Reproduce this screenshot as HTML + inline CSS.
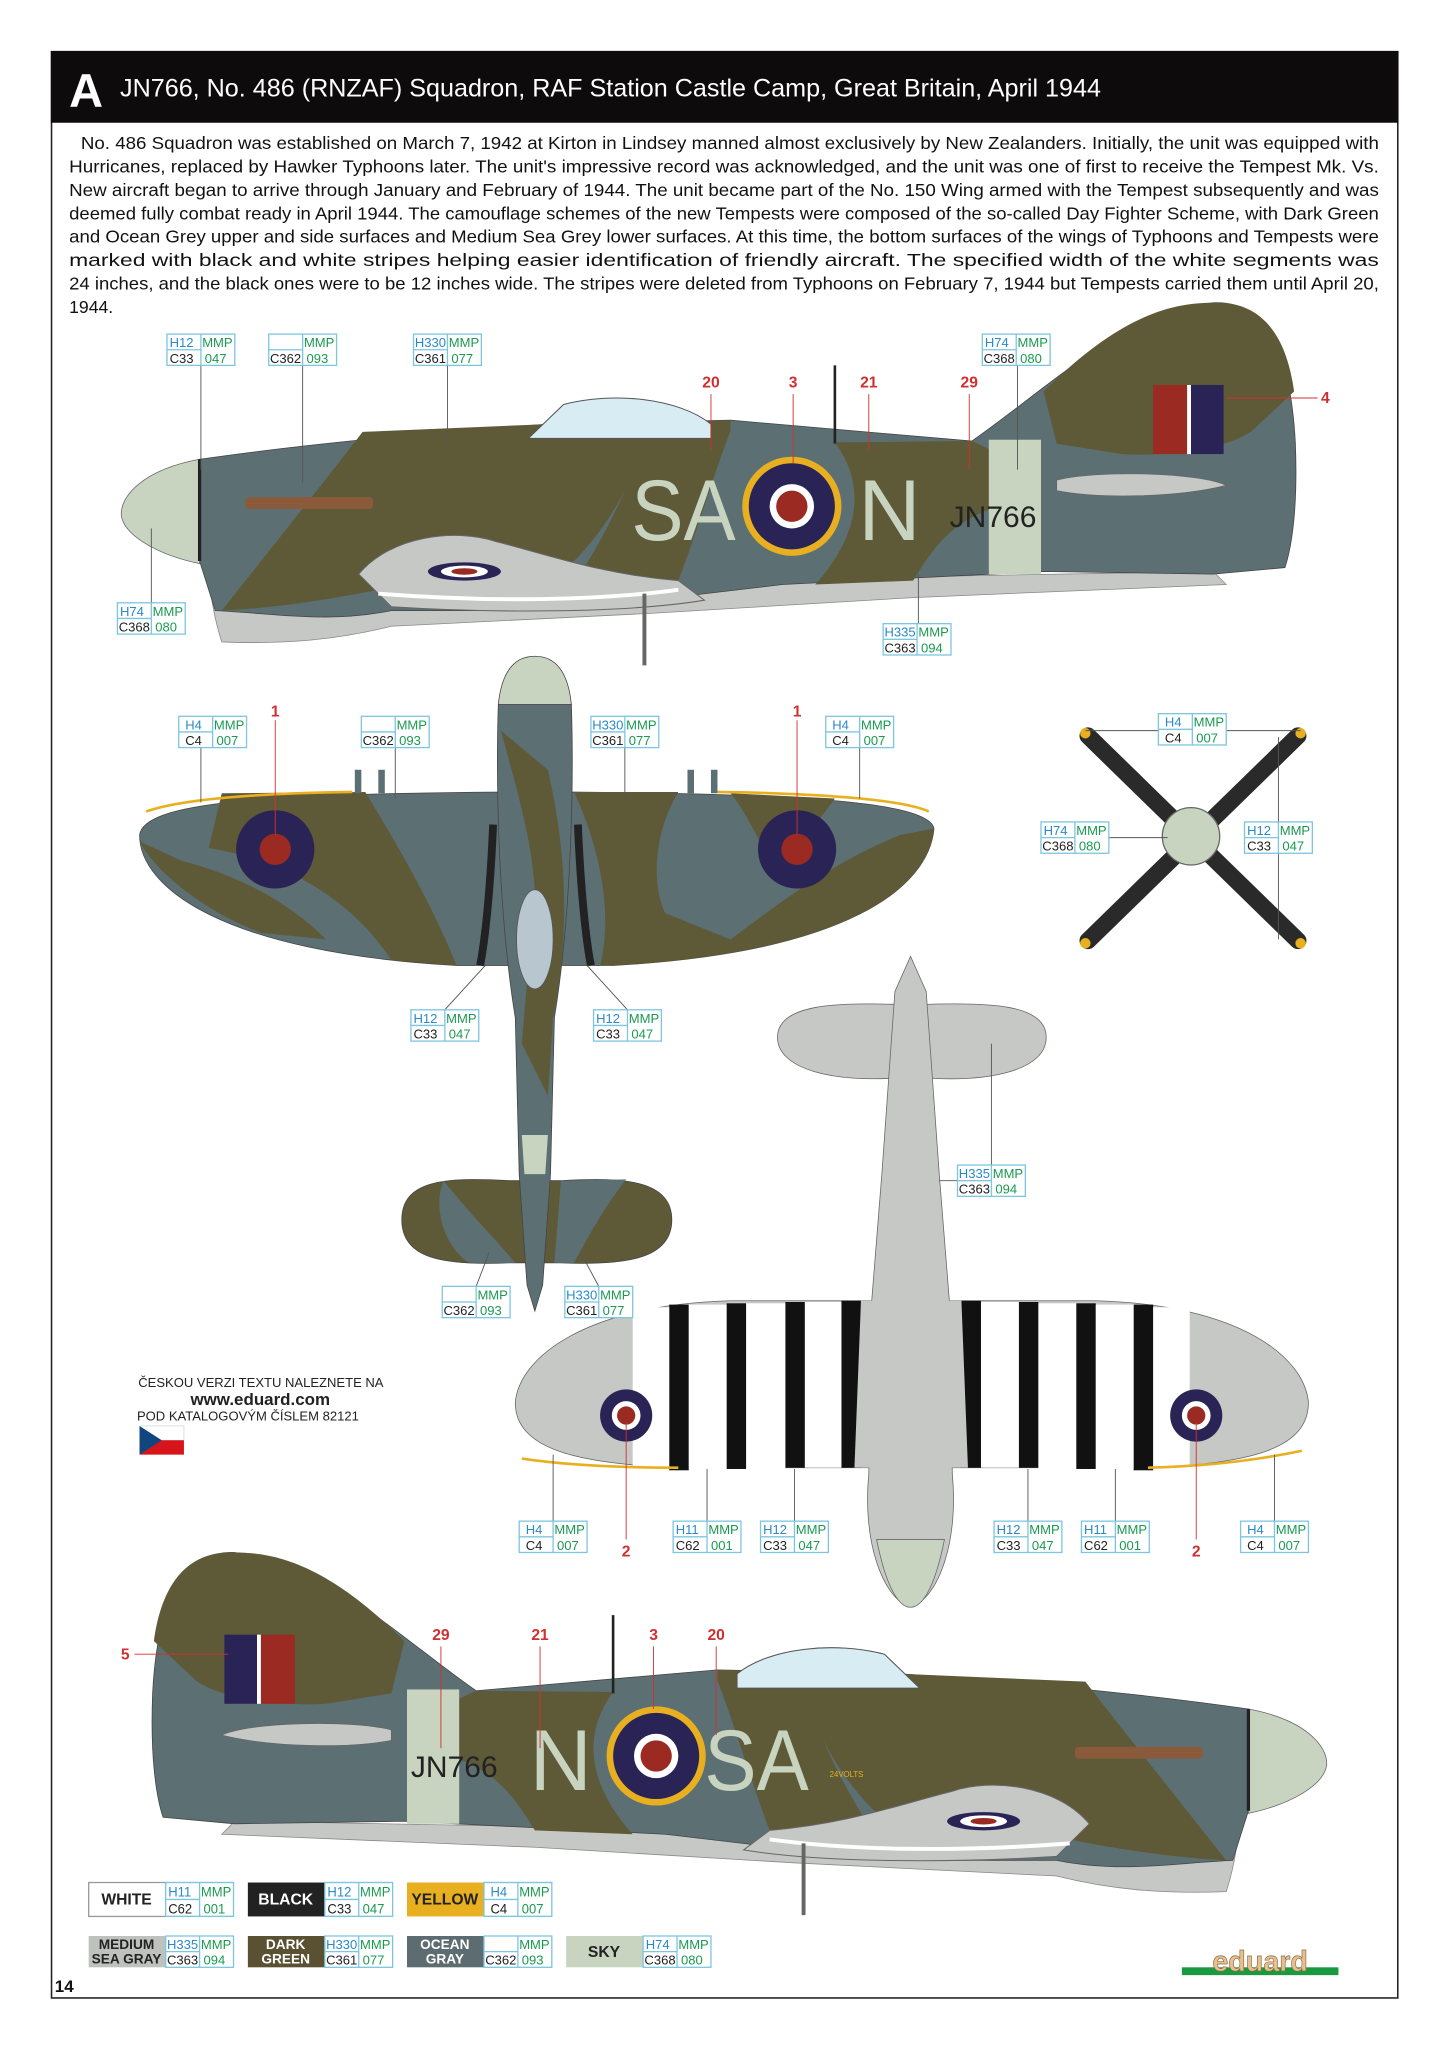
<!DOCTYPE html>
<html><head><meta charset="utf-8"><style>
html,body{margin:0;padding:0;background:#fff}
svg{display:block}
.lb text{font-family:"Liberation Sans Narrow","Liberation Sans",sans-serif;font-size:10px}
</style></head><body>
<svg width="1448" height="2047" viewBox="0 0 1110 1569" xmlns="http://www.w3.org/2000/svg" xmlns:xlink="http://www.w3.org/1999/xlink">
<defs>
<g id="box">
<rect x="0" y="0" width="52" height="24" fill="#fff" stroke="#7cc6e0" stroke-width="1"/>
<line x1="26" y1="0" x2="26" y2="24" stroke="#7cc6e0"/>
<line x1="0" y1="12" x2="26" y2="12" stroke="#7cc6e0"/>
</g>
<g id="side">
<path d="M160,425 L300,455 L500,450 L700,442 L930,438 L940,448 L700,458 L500,470 L300,480 C260,490 220,494 170,492 C163,470 160,450 160,425Z" fill="#c6c8c6" stroke="#888" stroke-width="0.6"/>
<path d="M153,352 C250,338 350,330 420,325 L560,322 L745,338 C800,300 860,240 930,232 C975,230 990,280 993,340 C995,390 990,420 985,435 L930,440 L800,438 L600,448 L430,468 L300,468 C250,478 210,470 165,468 L153,430 Z" fill="#5c7074" stroke="#444" stroke-width="0.6"/>
<!-- dark green camo -->
<path d="M278,331 L420,325 L498,323 C490,360 470,400 440,430 L400,440 C360,445 320,448 290,452 C250,460 210,466 170,468 C200,430 240,380 278,331Z" fill="#5e5a38"/>
<path d="M498,323 L560,322 L560,330 C545,370 530,420 520,445 L430,462 C460,420 485,370 498,323Z" fill="#5e5a38"/>
<path d="M640,339 L745,338 L760,345 L760,390 C730,400 715,420 700,445 L625,448 C650,420 670,380 640,339Z" fill="#5e5a38"/>
<path d="M800,300 C860,240 900,232 930,232 C975,230 988,270 992,300 L960,330 C940,345 890,350 860,348 L810,340 Z" fill="#5e5a38"/>
<rect x="758" y="337" width="40" height="103" fill="#c8d4c0"/>
<path d="M153,352 C110,360 92,380 93,395 C95,410 120,425 153,432 Z" fill="#c8d4c0" stroke="#666" stroke-width="0.6"/>
<line x1="153" y1="352" x2="153" y2="430" stroke="#222" stroke-width="2.5"/>
<rect x="188" y="381" width="98" height="9" rx="3" fill="#8a5a3a"/>
<path d="M405,336 L432,310 C470,300 520,305 545,325 L545,336Z" fill="#d8ecf4" stroke="#555" stroke-width="0.8"/>
<line x1="640" y1="280" x2="640" y2="340" stroke="#222" stroke-width="2"/>
<path d="M275,440 C300,410 350,405 380,415 C420,425 460,440 520,445 L540,460 C480,470 380,470 300,465 Z" fill="#c6c8c6" stroke="#666" stroke-width="0.8"/>
<path d="M290,455 C380,462 460,460 520,452" stroke="#fff" stroke-width="3" fill="none"/>
<ellipse cx="356" cy="438" rx="28" ry="7" fill="#2a2456"/><ellipse cx="356" cy="438" rx="18" ry="4.5" fill="#fff"/><ellipse cx="356" cy="438" rx="10" ry="2.5" fill="#9a2a22"/>
<line x1="494" y1="455" x2="494" y2="510" stroke="#666" stroke-width="3"/>
<path d="M810,368 C840,360 920,362 940,372 C900,382 840,382 810,376Z" fill="#c6c8c6" stroke="#666" stroke-width="0.6"/>
<circle cx="607" cy="388" r="38" fill="#e8b020"/><circle cx="607" cy="388" r="33" fill="#2a2456"/><circle cx="607" cy="388" r="17" fill="#fff"/><circle cx="607" cy="388" r="12" fill="#9a2a22"/>
<rect x="884" y="295" width="26" height="53" fill="#9a2a22"/><rect x="910" y="295" width="3" height="53" fill="#fff"/><rect x="913" y="295" width="25" height="53" fill="#2a2456"/>
</g>
</defs>

<rect x="39.5" y="39.5" width="1032" height="1492" fill="#fff" stroke="#222" stroke-width="1.2"/>
<rect x="39" y="39" width="1033" height="55" fill="#0d0b0b"/>
<text x="53" y="82" fill="#fff" font-family="Liberation Sans,sans-serif" font-weight="bold" font-size="36">A</text>
<text x="92" y="74" fill="#fff" font-family="Liberation Sans Narrow,Liberation Sans,sans-serif" font-size="19" textLength="752" lengthAdjust="spacingAndGlyphs">JN766, No. 486 (RNZAF) Squadron, RAF Station Castle Camp, Great Britain, April 1944</text>

<g font-family="Liberation Sans Narrow,Liberation Sans,sans-serif" font-size="13.5" fill="#111">
<text x="62" y="114" textLength="995" lengthAdjust="spacingAndGlyphs">No. 486 Squadron was established on March 7, 1942 at Kirton in Lindsey manned almost exclusively by New Zealanders. Initially, the unit was equipped with</text>
<text x="53" y="132" textLength="1004" lengthAdjust="spacingAndGlyphs">Hurricanes, replaced by Hawker Typhoons later. The unit's impressive record was acknowledged, and the unit was one of first to receive the Tempest Mk. Vs.</text>
<text x="53" y="150" textLength="1004" lengthAdjust="spacingAndGlyphs">New aircraft began to arrive through January and February of 1944. The unit became part of the No. 150 Wing armed with the Tempest subsequently and was</text>
<text x="53" y="168" textLength="1004" lengthAdjust="spacingAndGlyphs">deemed fully combat ready in April 1944. The camouflage schemes of the new Tempests were composed of the so-called Day Fighter Scheme, with Dark Green</text>
<text x="53" y="186" textLength="1004" lengthAdjust="spacingAndGlyphs">and Ocean Grey upper and side surfaces and Medium Sea Grey lower surfaces. At this time, the bottom surfaces of the wings of Typhoons and Tempests were</text>
<text x="53" y="204" textLength="1004" lengthAdjust="spacingAndGlyphs">marked with black and white stripes helping easier identification of friendly aircraft. The specified width of the white segments was</text>
<text x="53" y="222" textLength="1004" lengthAdjust="spacingAndGlyphs">24 inches, and the black ones were to be 12 inches wide. The stripes were deleted from Typhoons on February 7, 1944 but Tempests carried them until April 20,</text>
<text x="53" y="240">1944.</text>
</g>

<use xlink:href="#side"/>
<g font-family="Liberation Sans Narrow,Liberation Sans,sans-serif">
<text x="484" y="414" font-size="66" fill="#c8d4c0" textLength="80" lengthAdjust="spacingAndGlyphs">SA</text>
<text x="658" y="414" font-size="66" fill="#c8d4c0">N</text>
<text x="728" y="404" font-size="23" fill="#222">JN766</text>
</g>
<use xlink:href="#side" transform="translate(1110,958) scale(-1,1)"/>
<g font-family="Liberation Sans Narrow,Liberation Sans,sans-serif">
<text x="406" y="1372" font-size="66" fill="#c8d4c0">N</text>
<text x="540" y="1372" font-size="66" fill="#c8d4c0" textLength="80" lengthAdjust="spacingAndGlyphs">SA</text>
<text x="315" y="1362" font-size="23" fill="#222">JN766</text>
<text x="636" y="1362" font-size="6" fill="#e8b020">24VOLTS</text>
</g>

<!-- TOP VIEW -->
<g stroke="#444" stroke-width="0.6">
<path d="M107,640 C110,615 200,608 400,607 L420,607 C620,608 712,615 716,635 C712,680 650,730 470,740 L350,740 C170,730 107,680 107,640Z" fill="#5c7074"/>
<path d="M170,608 L280,607 C300,640 330,690 350,740 L300,736 C270,690 220,660 160,650 Z" fill="#5e5a38" stroke="none"/>
<path d="M107,645 C120,670 160,700 200,715 L250,720 C220,690 180,670 140,660Z" fill="#5e5a38" stroke="none"/>
<path d="M440,607 L520,607 C500,640 500,680 510,700 L560,720 C600,690 640,660 690,640 L716,635 C712,680 650,730 470,740 L460,740 C470,700 460,650 440,607Z" fill="#5e5a38" stroke="none"/>
<path d="M560,608 L640,612 C620,640 600,660 590,660 C580,640 570,620 560,608Z" fill="#5e5a38" stroke="none"/>
<path d="M308,935 C308,905 340,902 390,905 L430,905 C480,902 515,905 515,935 C515,965 480,970 430,968 L390,968 C340,970 308,965 308,935Z" fill="#5e5a38"/>
<path d="M340,905 C360,930 380,950 395,968 L360,968 C345,960 330,930 340,905Z" fill="#5c7074" stroke="none"/>
<path d="M430,905 L480,904 C460,930 450,950 440,968 L425,968Z" fill="#5c7074" stroke="none"/>
<path d="M382,540 C380,600 382,700 395,780 L398,900 L404,985 L410,1005 L416,985 L422,900 L425,780 C438,700 440,600 438,540Z" fill="#5c7074"/>
<path d="M384,560 C400,620 420,680 405,740 L400,800 L420,840 L424,780 C436,720 436,660 420,590 Z" fill="#5e5a38" stroke="none"/>
<path d="M400,870 L420,870 L418,900 L402,900Z" fill="#c8d4c0" stroke="none"/>
<path d="M382,540 C385,510 398,503 410,503 C422,503 435,510 438,540Z" fill="#c8d4c0"/>
</g>
<path d="M112,622 C140,612 200,608 270,607" stroke="#e8b020" stroke-width="2" fill="none"/>
<path d="M550,607 C620,608 690,612 712,622" stroke="#e8b020" stroke-width="2" fill="none"/>
<path d="M378,632 C376,680 372,720 368,740" stroke="#222" stroke-width="6" fill="none"/>
<path d="M443,632 C445,680 449,720 453,740" stroke="#222" stroke-width="6" fill="none"/>
<ellipse cx="410" cy="720" rx="14" ry="38" fill="#b8c6d0" stroke="#555" stroke-width="0.6"/>
<rect x="272" y="590" width="5" height="18" fill="#5c7074"/><rect x="290" y="590" width="5" height="18" fill="#5c7074"/>
<rect x="527" y="590" width="5" height="18" fill="#5c7074"/><rect x="545" y="590" width="5" height="18" fill="#5c7074"/>
<circle cx="211" cy="651" r="30" fill="#2a2456"/><circle cx="211" cy="651" r="12" fill="#9a2a22"/>
<circle cx="611" cy="651" r="30" fill="#2a2456"/><circle cx="611" cy="651" r="12" fill="#9a2a22"/>

<!-- PROPELLER -->
<g stroke="#2a2a2a" stroke-width="13" stroke-linecap="round">
<line x1="834" y1="564" x2="995" y2="721"/><line x1="995" y1="564" x2="834" y2="721"/>
</g>
<circle cx="832" cy="562" r="4" fill="#e8b020"/><circle cx="997" cy="562" r="4" fill="#e8b020"/>
<circle cx="832" cy="723" r="4" fill="#e8b020"/><circle cx="997" cy="723" r="4" fill="#e8b020"/>
<circle cx="913" cy="641" r="22" fill="#c8d4c0" stroke="#666"/>

<!-- BOTTOM VIEW -->
<g stroke="#666" stroke-width="0.6" fill="#c6c8c6">
<path d="M596,795 C596,770 640,768 690,770 L706,770 C760,768 802,770 802,795 C802,820 760,830 706,826 L690,826 C640,830 596,820 596,795Z"/>
<path d="M395,1075 C398,1040 450,1000 560,997 L840,997 C950,1000 1000,1040 1003,1075 C1003,1110 960,1122 880,1125 L520,1125 C440,1122 395,1110 395,1075Z"/>
<path d="M686,760 L698,733 L710,760 L720,900 L728,1000 L730,1130 C735,1180 720,1225 698,1232 C676,1225 661,1180 666,1130 L668,1000 L676,900Z"/>
</g>
<g fill="#111">
<rect x="513" y="1000" width="15" height="127"/><rect x="557" y="999" width="15" height="127"/>
<rect x="602" y="998" width="15" height="127"/><rect x="645" y="997" width="15" height="128"/>
<rect x="737" y="997" width="15" height="128"/><rect x="781" y="998" width="15" height="127"/>
<rect x="825" y="999" width="15" height="127"/><rect x="869" y="1000" width="15" height="127"/>
</g>
<g fill="#fff">
<rect x="485" y="1002" width="28" height="124"/><rect x="528" y="1000" width="29" height="126"/><rect x="572" y="999" width="30" height="127"/><rect x="617" y="998" width="28" height="127"/>
<rect x="752" y="998" width="29" height="127"/><rect x="796" y="999" width="29" height="127"/><rect x="840" y="1000" width="29" height="126"/><rect x="884" y="1002" width="28" height="124"/>
</g>
<path d="M660,997 L737,997 L742,1125 L655,1125Z" fill="#c6c8c6"/>
<path d="M400,1118 C440,1124 490,1125 520,1125" stroke="#e8b020" stroke-width="2" fill="none"/>
<path d="M880,1125 C920,1124 960,1120 998,1112" stroke="#e8b020" stroke-width="2" fill="none"/>
<circle cx="480" cy="1085" r="20" fill="#2a2456"/><circle cx="480" cy="1085" r="11" fill="#fff"/><circle cx="480" cy="1085" r="7" fill="#9a2a22"/>
<circle cx="917" cy="1085" r="20" fill="#2a2456"/><circle cx="917" cy="1085" r="11" fill="#fff"/><circle cx="917" cy="1085" r="7" fill="#9a2a22"/>
<path d="M672,1180 C680,1220 690,1232 698,1232 C706,1232 716,1220 724,1180Z" fill="#c8d4c0" stroke="#666" stroke-width="0.6"/>

<g stroke="#555" stroke-width="0.7">
<line x1="154" y1="280" x2="154" y2="360"/><line x1="232" y1="280" x2="232" y2="370"/><line x1="343" y1="280" x2="343" y2="340"/><line x1="780" y1="280" x2="780" y2="360"/>
<line x1="116" y1="462" x2="116" y2="405"/><line x1="704" y1="478" x2="704" y2="440"/>
<line x1="154" y1="573" x2="154" y2="615"/><line x1="303" y1="573" x2="303" y2="612"/><line x1="479" y1="573" x2="479" y2="612"/><line x1="659" y1="573" x2="659" y2="612"/>
<line x1="832" y1="560" x2="888" y2="560"/><line x1="940" y1="560" x2="997" y2="560"/>
<line x1="850" y1="642" x2="895" y2="642"/><line x1="980" y1="565" x2="980" y2="720"/>
<line x1="341" y1="774" x2="372" y2="740"/><line x1="481" y1="774" x2="450" y2="740"/>
<line x1="365" y1="986" x2="375" y2="960"/><line x1="459" y1="986" x2="445" y2="960"/>
<line x1="760" y1="893" x2="760" y2="800"/><line x1="720" y1="905" x2="734" y2="905"/>
<line x1="424" y1="1166" x2="424" y2="1115"/><line x1="542" y1="1166" x2="542" y2="1126"/><line x1="609" y1="1166" x2="609" y2="1126"/>
<line x1="788" y1="1166" x2="788" y2="1126"/><line x1="855" y1="1166" x2="855" y2="1126"/><line x1="977" y1="1166" x2="977" y2="1115"/>
</g>
<g stroke="#d03030" stroke-width="0.7">
<line x1="545" y1="302" x2="545" y2="345"/><line x1="608" y1="302" x2="608" y2="355"/><line x1="666" y1="302" x2="666" y2="345"/><line x1="743" y1="302" x2="743" y2="360"/><line x1="940" y1="305" x2="1010" y2="305"/>
<line x1="211" y1="552" x2="211" y2="640"/><line x1="611" y1="552" x2="611" y2="640"/>
<line x1="480" y1="1180" x2="480" y2="1090"/><line x1="917" y1="1180" x2="917" y2="1090"/>
<line x1="338" y1="1262" x2="338" y2="1340"/><line x1="414" y1="1262" x2="414" y2="1340"/><line x1="501" y1="1262" x2="501" y2="1310"/><line x1="549" y1="1262" x2="549" y2="1330"/><line x1="103" y1="1268" x2="175" y2="1268"/>
</g>
<g font-family="Liberation Sans,sans-serif" font-size="12" fill="#d03030" font-weight="bold" text-anchor="middle">
<text x="545" y="297">20</text><text x="608" y="297">3</text><text x="666" y="297">21</text><text x="743" y="297">29</text><text x="1016" y="309">4</text>
<text x="211" y="549">1</text><text x="611" y="549">1</text>
<text x="480" y="1193">2</text><text x="917" y="1193">2</text>
<text x="338" y="1257">29</text><text x="414" y="1257">21</text><text x="501" y="1257">3</text><text x="549" y="1257">20</text><text x="96" y="1272">5</text>
</g>

<g class="lb">
<g transform="translate(128,256)"><use xlink:href="#box"/><text x="2" y="10" fill="#2a8ac8">H12</text><text x="27" y="10" fill="#1a9a50">MMP</text><text x="2" y="22" fill="#222">C33</text><text x="29" y="22" fill="#1a9a50">047</text></g>
<g transform="translate(206,256)"><use xlink:href="#box"/><text x="27" y="10" fill="#1a9a50">MMP</text><text x="1" y="22" fill="#222">C362</text><text x="29" y="22" fill="#1a9a50">093</text></g>
<g transform="translate(317,256)"><use xlink:href="#box"/><text x="1" y="10" fill="#2a8ac8">H330</text><text x="27" y="10" fill="#1a9a50">MMP</text><text x="1" y="22" fill="#222">C361</text><text x="29" y="22" fill="#1a9a50">077</text></g>
<g transform="translate(753,256)"><use xlink:href="#box"/><text x="2" y="10" fill="#2a8ac8">H74</text><text x="27" y="10" fill="#1a9a50">MMP</text><text x="1" y="22" fill="#222">C368</text><text x="29" y="22" fill="#1a9a50">080</text></g>
<g transform="translate(90,462)"><use xlink:href="#box"/><text x="2" y="10" fill="#2a8ac8">H74</text><text x="27" y="10" fill="#1a9a50">MMP</text><text x="1" y="22" fill="#222">C368</text><text x="29" y="22" fill="#1a9a50">080</text></g>
<g transform="translate(677,478)"><use xlink:href="#box"/><text x="1" y="10" fill="#2a8ac8">H335</text><text x="27" y="10" fill="#1a9a50">MMP</text><text x="1" y="22" fill="#222">C363</text><text x="29" y="22" fill="#1a9a50">094</text></g>
<g transform="translate(137,549)"><use xlink:href="#box"/><text x="5" y="10" fill="#2a8ac8">H4</text><text x="27" y="10" fill="#1a9a50">MMP</text><text x="5" y="22" fill="#222">C4</text><text x="29" y="22" fill="#1a9a50">007</text></g>
<g transform="translate(277,549)"><use xlink:href="#box"/><text x="27" y="10" fill="#1a9a50">MMP</text><text x="1" y="22" fill="#222">C362</text><text x="29" y="22" fill="#1a9a50">093</text></g>
<g transform="translate(453,549)"><use xlink:href="#box"/><text x="1" y="10" fill="#2a8ac8">H330</text><text x="27" y="10" fill="#1a9a50">MMP</text><text x="1" y="22" fill="#222">C361</text><text x="29" y="22" fill="#1a9a50">077</text></g>
<g transform="translate(633,549)"><use xlink:href="#box"/><text x="5" y="10" fill="#2a8ac8">H4</text><text x="27" y="10" fill="#1a9a50">MMP</text><text x="5" y="22" fill="#222">C4</text><text x="29" y="22" fill="#1a9a50">007</text></g>
<g transform="translate(888,547)"><use xlink:href="#box"/><text x="5" y="10" fill="#2a8ac8">H4</text><text x="27" y="10" fill="#1a9a50">MMP</text><text x="5" y="22" fill="#222">C4</text><text x="29" y="22" fill="#1a9a50">007</text></g>
<g transform="translate(798,630)"><use xlink:href="#box"/><text x="2" y="10" fill="#2a8ac8">H74</text><text x="27" y="10" fill="#1a9a50">MMP</text><text x="1" y="22" fill="#222">C368</text><text x="29" y="22" fill="#1a9a50">080</text></g>
<g transform="translate(954,630)"><use xlink:href="#box"/><text x="2" y="10" fill="#2a8ac8">H12</text><text x="27" y="10" fill="#1a9a50">MMP</text><text x="2" y="22" fill="#222">C33</text><text x="29" y="22" fill="#1a9a50">047</text></g>
<g transform="translate(315,774)"><use xlink:href="#box"/><text x="2" y="10" fill="#2a8ac8">H12</text><text x="27" y="10" fill="#1a9a50">MMP</text><text x="2" y="22" fill="#222">C33</text><text x="29" y="22" fill="#1a9a50">047</text></g>
<g transform="translate(455,774)"><use xlink:href="#box"/><text x="2" y="10" fill="#2a8ac8">H12</text><text x="27" y="10" fill="#1a9a50">MMP</text><text x="2" y="22" fill="#222">C33</text><text x="29" y="22" fill="#1a9a50">047</text></g>
<g transform="translate(339,986)"><use xlink:href="#box"/><text x="27" y="10" fill="#1a9a50">MMP</text><text x="1" y="22" fill="#222">C362</text><text x="29" y="22" fill="#1a9a50">093</text></g>
<g transform="translate(433,986)"><use xlink:href="#box"/><text x="1" y="10" fill="#2a8ac8">H330</text><text x="27" y="10" fill="#1a9a50">MMP</text><text x="1" y="22" fill="#222">C361</text><text x="29" y="22" fill="#1a9a50">077</text></g>
<g transform="translate(734,893)"><use xlink:href="#box"/><text x="1" y="10" fill="#2a8ac8">H335</text><text x="27" y="10" fill="#1a9a50">MMP</text><text x="1" y="22" fill="#222">C363</text><text x="29" y="22" fill="#1a9a50">094</text></g>
<g transform="translate(398,1166)"><use xlink:href="#box"/><text x="5" y="10" fill="#2a8ac8">H4</text><text x="27" y="10" fill="#1a9a50">MMP</text><text x="5" y="22" fill="#222">C4</text><text x="29" y="22" fill="#1a9a50">007</text></g>
<g transform="translate(516,1166)"><use xlink:href="#box"/><text x="2" y="10" fill="#2a8ac8">H11</text><text x="27" y="10" fill="#1a9a50">MMP</text><text x="2" y="22" fill="#222">C62</text><text x="29" y="22" fill="#1a9a50">001</text></g>
<g transform="translate(583,1166)"><use xlink:href="#box"/><text x="2" y="10" fill="#2a8ac8">H12</text><text x="27" y="10" fill="#1a9a50">MMP</text><text x="2" y="22" fill="#222">C33</text><text x="29" y="22" fill="#1a9a50">047</text></g>
<g transform="translate(762,1166)"><use xlink:href="#box"/><text x="2" y="10" fill="#2a8ac8">H12</text><text x="27" y="10" fill="#1a9a50">MMP</text><text x="2" y="22" fill="#222">C33</text><text x="29" y="22" fill="#1a9a50">047</text></g>
<g transform="translate(829,1166)"><use xlink:href="#box"/><text x="2" y="10" fill="#2a8ac8">H11</text><text x="27" y="10" fill="#1a9a50">MMP</text><text x="2" y="22" fill="#222">C62</text><text x="29" y="22" fill="#1a9a50">001</text></g>
<g transform="translate(951,1166)"><use xlink:href="#box"/><text x="5" y="10" fill="#2a8ac8">H4</text><text x="27" y="10" fill="#1a9a50">MMP</text><text x="5" y="22" fill="#222">C4</text><text x="29" y="22" fill="#1a9a50">007</text></g>
</g>

<g font-family="Liberation Sans,sans-serif" fill="#222">
<text x="106" y="1063" font-size="10">ČESKOU VERZI TEXTU NALEZNETE NA</text>
<text x="146" y="1077" font-size="13" font-weight="bold">www.eduard.com</text>
<text x="105" y="1089" font-size="10">POD KATALOGOVÝM ČÍSLEM 82121</text>
</g>
<rect x="107" y="1093" width="34" height="11" fill="#fff" stroke="#ccc" stroke-width="0.5"/>
<rect x="107" y="1104" width="34" height="11" fill="#d7141a"/>
<path d="M107,1093 L124,1104 L107,1115Z" fill="#11457e"/>

<g font-family="Liberation Sans Narrow,Liberation Sans,sans-serif" font-weight="bold" text-anchor="middle" font-size="12">
<rect x="68" y="1443" width="59" height="26" fill="#fff" stroke="#999"/><text x="97" y="1460" fill="#222">WHITE</text>
<rect x="190" y="1443" width="59" height="26" fill="#222"/><text x="219" y="1460" fill="#fff">BLACK</text>
<rect x="312" y="1443" width="59" height="26" fill="#e8b020"/><text x="341" y="1460" fill="#222">YELLOW</text>
<rect x="68" y="1484" width="59" height="24" fill="#bfc1bf"/><text x="97" y="1494" fill="#222" font-size="10.5">MEDIUM</text><text x="97" y="1505" fill="#222" font-size="10.5">SEA GRAY</text>
<rect x="190" y="1484" width="59" height="24" fill="#5a5032"/><text x="219" y="1494" fill="#fff" font-size="10.5">DARK</text><text x="219" y="1505" fill="#fff" font-size="10.5">GREEN</text>
<rect x="312" y="1484" width="59" height="24" fill="#5c6c70"/><text x="341" y="1494" fill="#fff" font-size="10.5">OCEAN</text><text x="341" y="1505" fill="#fff" font-size="10.5">GRAY</text>
<rect x="434" y="1484" width="59" height="24" fill="#c8d4c0"/><text x="463" y="1500" fill="#222">SKY</text>
</g>
<g class="lb">
<g transform="translate(127,1443) scale(1,1.08)"><use xlink:href="#box"/><text x="2" y="10" fill="#2a8ac8">H11</text><text x="27" y="10" fill="#1a9a50">MMP</text><text x="2" y="22" fill="#222">C62</text><text x="29" y="22" fill="#1a9a50">001</text></g>
<g transform="translate(249,1443) scale(1,1.08)"><use xlink:href="#box"/><text x="2" y="10" fill="#2a8ac8">H12</text><text x="27" y="10" fill="#1a9a50">MMP</text><text x="2" y="22" fill="#222">C33</text><text x="29" y="22" fill="#1a9a50">047</text></g>
<g transform="translate(371,1443) scale(1,1.08)"><use xlink:href="#box"/><text x="5" y="10" fill="#2a8ac8">H4</text><text x="27" y="10" fill="#1a9a50">MMP</text><text x="5" y="22" fill="#222">C4</text><text x="29" y="22" fill="#1a9a50">007</text></g>
<g transform="translate(127,1484)"><use xlink:href="#box"/><text x="1" y="10" fill="#2a8ac8">H335</text><text x="27" y="10" fill="#1a9a50">MMP</text><text x="1" y="22" fill="#222">C363</text><text x="29" y="22" fill="#1a9a50">094</text></g>
<g transform="translate(249,1484)"><use xlink:href="#box"/><text x="1" y="10" fill="#2a8ac8">H330</text><text x="27" y="10" fill="#1a9a50">MMP</text><text x="1" y="22" fill="#222">C361</text><text x="29" y="22" fill="#1a9a50">077</text></g>
<g transform="translate(371,1484)"><use xlink:href="#box"/><text x="27" y="10" fill="#1a9a50">MMP</text><text x="1" y="22" fill="#222">C362</text><text x="29" y="22" fill="#1a9a50">093</text></g>
<g transform="translate(493,1484)"><use xlink:href="#box"/><text x="2" y="10" fill="#2a8ac8">H74</text><text x="27" y="10" fill="#1a9a50">MMP</text><text x="1" y="22" fill="#222">C368</text><text x="29" y="22" fill="#1a9a50">080</text></g>
</g>

<rect x="906" y="1508" width="120" height="6" fill="#1a9a40"/>
<text x="966" y="1511" text-anchor="middle" font-family="Liberation Sans,sans-serif" font-weight="bold" font-size="22" fill="#e8c090" stroke="#8a6a40" stroke-width="0.5">eduard</text>
<text x="42" y="1527" font-family="Liberation Sans,sans-serif" font-weight="bold" font-size="13" fill="#111">14</text>
</svg>
</body></html>
